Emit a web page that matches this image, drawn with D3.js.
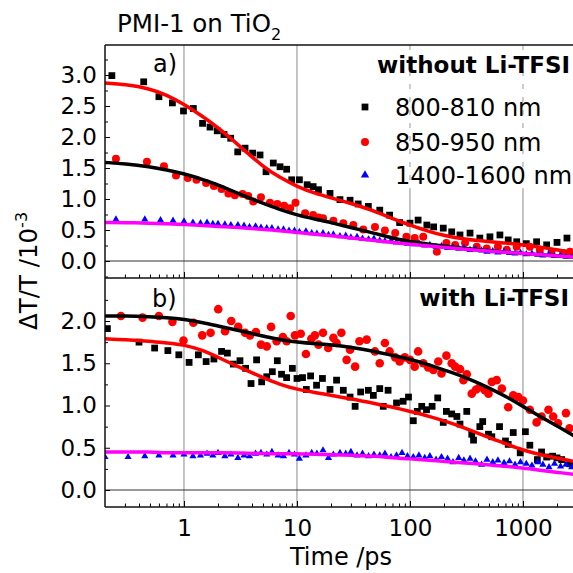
<!DOCTYPE html>
<html><head><meta charset="utf-8">
<script src="https://cdn.jsdelivr.net/npm/d3@7"></script>
<style>html,body{margin:0;padding:0;background:#fff;overflow:hidden}</style>
</head><body><svg id="c" width="573" height="573" xmlns="http://www.w3.org/2000/svg"></svg>
<script>
// ---------- DATA ----------
// Panel a) without Li-TFSI
const aBlackT = [0.23,0.44,0.60,0.79,0.99,1.21,1.46,1.70,1.97,2.26,2.59,2.99,3.47,4.05,4.71,5.32,6.17,7.08,8.1,8.98,10.5,12.3,13.9,15.5,19.6,24,29.5,34.8,42.8,54,66,81,100,118,141,162,197,234,277,340,415,510,625,740,880,1070,1320,1620,2000,2450];
const aBlackV = [2.99,2.89,2.65,2.55,2.42,2.46,2.22,2.16,2.10,2.04,1.98,1.76,1.82,1.74,1.71,1.44,1.58,1.52,1.48,1.31,1.31,1.23,1.20,1.15,1.09,0.99,0.98,0.92,0.88,0.82,0.74,0.62,0.61,0.66,0.58,0.55,0.53,0.47,0.42,0.45,0.37,0.39,0.42,0.34,0.31,0.28,0.31,0.26,0.30,0.37];
const aRedT = [0.25,0.47,0.665,0.85,1.08,1.29,1.57,1.84,2.15,2.47,2.82,3.3,3.7,4.1,4.8,5.76,6.7,7.7,8.7,9.7,11.8,13.9,15.5,17,21,25.7,31.5,38.6,49,60,74,93,110,131,173,210,251,307,390,478,600,720,880,1150,1410,1790,2270,2600];
const aRedV = [1.65,1.60,1.53,1.38,1.34,1.31,1.26,1.21,1.16,1.09,1.06,1.08,1.05,0.96,1.03,0.94,0.92,0.89,0.85,0.94,0.77,0.74,0.70,0.69,0.65,0.61,0.58,0.51,0.55,0.49,0.45,0.39,0.37,0.39,0.15,0.29,0.26,0.29,0.23,0.20,0.23,0.18,0.23,0.23,0.18,0.15,0.13,0.15];
const aBlueT = [0.25,0.45,0.62,0.8,1.0,1.2,1.4,1.6,1.8,2.0,2.3,2.6,3.0,3.4,3.8,4.3,4.8,5.4,6,6.8,7.6,8.5,9.5,10.5,12,13.5,15,17,19,21,24,27,30,34,38,43,48,54,60,68,76,85,95,107,120,135,150,170,190,215,240,270,300,340,380,430,480,540,600,680,760,850,950,1070,1200,1350,1500,1700,1900,2150,2400,2700];
const aBlueV = [0.67,0.67,0.66,0.65,0.64,0.62,0.61,0.62,0.60,0.60,0.59,0.58,0.58,0.57,0.55,0.56,0.54,0.53,0.53,0.51,0.51,0.49,0.49,0.47,0.48,0.45,0.44,0.45,0.42,0.43,0.40,0.41,0.38,0.39,0.36,0.35,0.36,0.33,0.32,0.33,0.30,0.31,0.28,0.27,0.29,0.25,0.26,0.23,0.24,0.21,0.22,0.20,0.21,0.18,0.19,0.17,0.15,0.16,0.14,0.15,0.13,0.12,0.13,0.11,0.12,0.10,0.09,0.11,0.08,0.09,0.07,0.08];

// Panel b) with Li-TFSI
const bBlackT = [0.21,0.40,0.55,0.72,0.90,1.11,1.34,1.57,1.84,2.15,2.42,2.73,3.13,3.51,3.92,4.39,4.87,5.4,6.05,6.7,7.3,8.1,9.1,10,11.2,12.1,13.2,14.9,16.8,19.6,22.4,25.7,29.5,32.7,36.6,42.8,47.4,54,58,64,76,87,97,107,116,127,140,157,176,197,210,234,260,277,318,352,365,415,440,495,530,620,700,740,820,945,1050,1150,1340,1460,1620,1830,2000,2200,2600];
const bBlackV = [1.91,1.75,1.68,1.65,1.60,1.51,1.60,1.52,1.55,1.64,1.62,1.49,1.53,1.44,1.26,1.54,1.28,1.34,1.40,1.53,1.37,1.33,1.44,1.32,1.33,1.19,1.35,1.24,1.32,1.19,1.30,1.18,1.10,0.99,1.16,1.18,1.12,1.20,0.99,1.18,1.03,1.05,1.10,0.82,0.93,0.99,0.95,0.99,1.09,0.80,0.93,0.90,0.87,0.78,0.93,0.66,0.59,0.75,0.81,0.66,0.63,0.75,0.58,0.54,0.68,0.44,0.69,0.53,0.36,0.45,0.39,0.40,0.38,0.36,0.31];
const bRedT = [0.277,0.43,0.60,0.79,0.99,1.21,1.45,1.72,2.01,2.31,2.62,3.02,3.47,3.84,4.33,4.8,5.4,5.9,6.6,7.5,8.1,8.8,9.6,10.8,12,13.4,14.4,15.5,17,18.9,21,22.4,24.7,27.5,29.5,32.7,35.7,41.4,49,54,60,66,74,81,90,100,110,118,131,145,161,178,190,210,234,251,277,297,318,352,385,415,460,495,530,585,650,740,820,910,1000,1150,1320,1460,1680,1850,2040,2400,2580];
const bRedV = [2.06,2.04,2.06,1.99,1.77,1.98,1.83,1.86,2.14,1.88,2.00,1.93,1.86,1.83,1.87,1.72,1.70,1.93,1.76,1.81,1.76,2.06,1.83,1.85,1.61,1.79,1.83,1.72,1.86,1.68,1.80,1.74,1.86,1.54,1.66,1.46,1.76,1.78,1.64,1.50,1.74,1.64,1.57,1.52,1.57,1.54,1.46,1.64,1.50,1.45,1.42,1.52,1.38,1.59,1.50,1.46,1.43,1.30,1.37,1.14,1.19,1.22,1.18,1.14,1.28,1.30,1.20,0.98,1.12,1.10,1.06,0.95,0.80,0.87,0.95,0.87,0.79,0.91,0.73];
const bBlueT = [0.2,0.32,0.45,0.6,0.8,1.0,1.2,1.4,1.6,1.8,2.0,2.3,2.6,3.0,3.4,3.8,4.3,4.8,5.4,6,6.8,7.6,8.5,9.5,10.5,12,13.5,15,17,19,21,24,27,30,34,38,43,48,54,60,68,76,85,95,107,120,135,150,170,190,215,240,270,300,340,380,430,480,540,600,680,760,850,950,1070,1200,1350,1500,1700,1900,2150,2400,2700];
const bBlueV = [0.39,0.39,0.40,0.41,0.41,0.42,0.40,0.41,0.43,0.41,0.44,0.40,0.42,0.38,0.41,0.40,0.43,0.44,0.42,0.45,0.41,0.40,0.44,0.42,0.37,0.41,0.44,0.43,0.47,0.38,0.42,0.44,0.43,0.45,0.41,0.43,0.40,0.42,0.41,0.43,0.39,0.41,0.44,0.40,0.39,0.41,0.38,0.40,0.36,0.39,0.37,0.33,0.38,0.35,0.37,0.34,0.30,0.36,0.33,0.35,0.32,0.34,0.30,0.33,0.31,0.29,0.33,0.30,0.27,0.31,0.28,0.30,0.27];

// Fit curves
const fitT = [0.2,0.3,0.5,0.7,1,1.5,2,3,5,7,10,15,20,30,50,70,100,150,200,300,500,700,1000,1500,2000,3000];
const aFitRed     = [2.87,2.85,2.78,2.68,2.53,2.32,2.15,1.88,1.52,1.35,1.20,1.08,1.02,0.93,0.80,0.68,0.58,0.47,0.41,0.35,0.31,0.29,0.26,0.22,0.18,0.12];
const aFitBlack   = [1.59,1.57,1.52,1.47,1.41,1.31,1.23,1.09,0.93,0.83,0.74,0.67,0.62,0.54,0.44,0.37,0.31,0.27,0.24,0.20,0.17,0.14,0.12,0.10,0.08,0.06];
const aFitMagenta = [0.62,0.62,0.61,0.60,0.59,0.57,0.56,0.54,0.51,0.49,0.46,0.43,0.41,0.37,0.33,0.30,0.27,0.24,0.22,0.19,0.16,0.14,0.12,0.10,0.08,0.06];
const bFitBlack   = [2.06,2.06,2.05,2.04,2.02,1.98,1.94,1.89,1.82,1.78,1.75,1.73,1.72,1.69,1.64,1.59,1.55,1.48,1.42,1.34,1.21,1.11,0.99,0.85,0.76,0.62];
const bFitRed     = [1.79,1.78,1.76,1.74,1.72,1.65,1.57,1.46,1.33,1.25,1.19,1.15,1.12,1.08,1.02,0.98,0.93,0.87,0.82,0.74,0.62,0.55,0.47,0.41,0.38,0.33];
const bFitMagenta = [0.45,0.45,0.45,0.44,0.44,0.44,0.44,0.44,0.43,0.43,0.43,0.42,0.42,0.41,0.40,0.38,0.37,0.35,0.34,0.32,0.30,0.28,0.26,0.23,0.21,0.18];

const yMajorTicksA = [0,0.5,1,1.5,2,2.5,3];
const yMajorTicksB = [0,0.5,1,1.5,2];
const xMajorTicks = [1,10,100,1000];
const legendLabels = ["800-810 nm","850-950 nm","1400-1600 nm"];

// ---------- DRAW ----------
const FONT = "'DejaVu Sans', 'Liberation Sans', Arial, sans-serif";
const svg = d3.select('#c');
const L = 105, R = 573;
const x = d3.scaleLog().domain([0.2, 3000]).range([L, L + 113*Math.log10(15000)]);
const yA = d3.scaleLinear().domain([0,3]).range([261,75]);
const yB = d3.scaleLinear().domain([0,2]).range([490,321]);
const zip = (t,v) => t.slice(0, Math.min(t.length, v.length)).map((d,i)=>({t:d, v:v[i]}));

const panels = [
  {id:'a', y:yA, top:45, bottom:278, major:yMajorTicksA,
   fits:[[aFitRed,'#ff0000'],[aFitBlack,'#000'],[aFitMagenta,'#ff00ff']],
   sq:zip(aBlackT,aBlackV), ci:zip(aRedT,aRedV), tr:zip(aBlueT,aBlueV)},
  {id:'b', y:yB, top:278, bottom:507, major:yMajorTicksB,
   fits:[[bFitBlack,'#000'],[bFitRed,'#ff0000'],[bFitMagenta,'#ff00ff']],
   sq:zip(bBlackT,bBlackV), ci:zip(bRedT,bRedV), tr:zip(bBlueT,bBlueV)}
];

const defs = svg.append('defs');
panels.forEach(p=>{
  defs.append('clipPath').attr('id','clip'+p.id).append('rect')
    .attr('x',L).attr('y',p.top).attr('width',R-L).attr('height',p.bottom-p.top);
});

panels.forEach(p=>{
  const g = svg.append('g');
  // gridlines
  xMajorTicks.forEach(t=>{
    if (p.id==='a' && t>=100) {
      g.append('line').attr('x1',x(t)).attr('x2',x(t)).attr('y1',p.top).attr('y2',190)
        .attr('stroke','#9a9a9a').attr('stroke-width',1).attr('stroke-dasharray','5,8');
      g.append('line').attr('x1',x(t)).attr('x2',x(t)).attr('y1',190).attr('y2',p.bottom)
        .attr('stroke','#8a8a8a').attr('stroke-width',1);
    } else {
      g.append('line').attr('x1',x(t)).attr('x2',x(t)).attr('y1',p.top).attr('y2',p.bottom)
        .attr('stroke','#8a8a8a').attr('stroke-width',1);
    }
  });
  // zero line
  g.append('line').attr('x1',L).attr('x2',R).attr('y1',p.y(0)).attr('y2',p.y(0))
    .attr('stroke','#333').attr('stroke-width',1.2);

  const d = g.append('g').attr('clip-path','url(#clip'+p.id+')');
  // data markers
  d.selectAll('path.sq').data(p.sq).join('path').attr('class','sq')
    .attr('d', d3.symbol(d3.symbolSquare, 46))
    .attr('transform', e=>`translate(${x(e.t)},${p.y(e.v)})`).attr('fill','#000');
  d.selectAll('circle.ci').data(p.ci).join('circle').attr('class','ci')
    .attr('cx', e=>x(e.t)).attr('cy', e=>p.y(e.v)).attr('r', p.id==='a'?4:4.3).attr('fill','#ff0000');
  d.selectAll('path.tr').data(p.tr).join('path').attr('class','tr')
    .attr('d', d3.symbol(d3.symbolTriangle, 22))
    .attr('transform', e=>`translate(${x(e.t)},${p.y(e.v)})`).attr('fill','#0000ff');
  // fits
  const line = d3.line().x(e=>x(e.t)).y(e=>p.y(e.v)).curve(d3.curveBasis);
  p.fits.forEach(([vals,col])=>{
    d.append('path').datum(zip(fitT, vals)).attr('d', line)
      .attr('fill','none').attr('stroke',col).attr('stroke-width',3.5);
  });

  // y axis major
  const ya = d3.axisLeft(p.y).tickValues(p.major).tickSize(-5).tickPadding(8).tickFormat(d3.format('.1f'));
  const yg = svg.append('g').attr('transform',`translate(${L},0)`).call(ya);
  yg.select('.domain').remove();
  yg.attr('font-family',FONT).attr('font-size',23);
  yg.selectAll('text').attr('fill','#000');
  // y minor
  const ymin = [];
  for (let v=-0.25; v<= (p.id==='a'?3.5:2.5)+1e-9; v+=0.25) { const yy=p.y(v); if (yy>=p.top-0.5 && yy<=p.bottom+0.5 && Math.abs(v*2-Math.round(v*2))>1e-6) ymin.push(v); }
  const ymg = svg.append('g').attr('transform',`translate(${L},0)`)
    .call(d3.axisLeft(p.y).tickValues(ymin).tickSize(-3).tickFormat(''));
  ymg.select('.domain').remove();

  // x axis at bottom of panel (ticks pointing up)
  const xa = d3.axisBottom(x).tickValues(xMajorTicks).tickSize(-6).tickPadding(13)
    .tickFormat(p.id==='b' ? d3.format('d') : '');
  const xg = svg.append('g').attr('transform',`translate(0,${p.bottom})`).call(xa);
  xg.select('.domain').remove();
  xg.attr('font-family',FONT).attr('font-size',23);
  xg.selectAll('text').attr('fill','#000');
  const xminor = x.ticks().filter(t=>{ const l=Math.log10(t); return Math.abs(l-Math.round(l))>1e-6 && t>0.2; });
  const xmg = svg.append('g').attr('transform',`translate(0,${p.bottom})`)
    .call(d3.axisBottom(x).tickValues(xminor).tickSize(-3.5).tickFormat(''));
  xmg.select('.domain').remove();
});

// frame
const frame = svg.append('g').attr('stroke','#111').attr('stroke-width',1.5);
frame.append('line').attr('x1',L).attr('x2',L).attr('y1',45).attr('y2',507);
[45,278,507].forEach(yy=>frame.append('line').attr('x1',L).attr('x2',R).attr('y1',yy).attr('y2',yy));

// texts
const txt = (xx,yy,s,size,opts={}) => svg.append('text').attr('x',xx).attr('y',yy)
  .attr('font-family',FONT).attr('font-size',size).attr('fill','#000')
  .attr('font-weight',opts.bold?'bold':'normal').attr('text-anchor',opts.anchor||'start').text(s);

const title = txt(117,32,'PMI-1 on TiO',24.5);
title.append('tspan').attr('dy',8).attr('font-size',16).text('2');
txt(153,72,'a)',24);
txt(152,307,'b)',24);
txt(570,73,'without Li-TFSI',23,{bold:true,anchor:'end'});
txt(569,306,'with Li-TFSI',23,{bold:true,anchor:'end'});

// legend
const legY = [107,142,175];
svg.append('path').attr('d',d3.symbol(d3.symbolSquare,46)).attr('transform',`translate(365,${legY[0]})`).attr('fill','#000');
svg.append('circle').attr('cx',365).attr('cy',legY[1]).attr('r',4).attr('fill','#ff0000');
svg.append('path').attr('d',d3.symbol(d3.symbolTriangle,30)).attr('transform',`translate(365,${legY[2]})`).attr('fill','#0000ff');
legendLabels.forEach((s,i)=>txt(395,legY[i]+8.7,s,24));

// axis titles
txt(341,565,'Time /ps',24,{anchor:'middle'});
const yl = svg.append('text').attr('transform','translate(37,271) rotate(-90)')
  .attr('font-family',FONT).attr('font-size',24.5).attr('fill','#000').attr('text-anchor','middle');
yl.append('tspan').text('\u0394T/T /10');
yl.append('tspan').attr('dy',-10).attr('font-size',16).text('-3');
</script></body></html>
